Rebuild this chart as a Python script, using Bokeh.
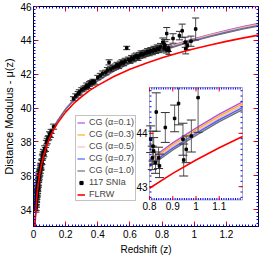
import numpy as np
from bokeh.plotting import figure
from bokeh.core.properties import value
from bokeh.models import (ColumnDataSource, FixedTicker, LinearAxis, Legend,
                          LegendItem, Range1d, BoxAnnotation)
from bokeh.embed import file_html
from bokeh.resources import INLINE

# ---------------- data ----------------
z_curve = [0.008, 0.01, 0.0125, 0.015, 0.02, 0.025, 0.03, 0.04, 0.05, 0.06,
           0.075, 0.1, 0.125, 0.15, 0.2, 0.25, 0.3, 0.35, 0.4, 0.5, 0.6, 0.7,
           0.8, 0.9, 1.0, 1.1, 1.2, 1.3, 1.4]
mu_cg01 = [32.69, 33.18, 33.66, 34.07, 34.70, 35.19, 35.59, 36.24, 36.74, 37.15,
           37.65, 38.32, 38.85, 39.27, 39.96, 40.50, 40.96, 41.34, 41.68, 42.26,
           42.74, 43.15, 43.50, 43.82, 44.10, 44.36, 44.59, 44.81, 45.00]
mu_cg03 = [32.690, 33.180, 33.660, 34.070, 34.699, 35.189, 35.588, 36.238, 36.737, 37.147,
           37.646, 38.315, 38.844, 39.262, 39.950, 40.487, 40.945, 41.323, 41.661, 42.238,
           42.714, 43.121, 43.469, 43.787, 44.066, 44.325, 44.554, 44.773, 44.961]
mu_cg05 = [32.690, 33.180, 33.660, 34.070, 34.698, 35.188, 35.586, 36.236, 36.734, 37.144,
           37.642, 38.310, 38.838, 39.254, 39.940, 40.474, 40.930, 41.306, 41.642, 42.216,
           42.688, 43.092, 43.438, 43.754, 44.032, 44.290, 44.518, 44.736, 44.922]
mu_cg07 = [32.690, 33.180, 33.660, 34.070, 34.697, 35.187, 35.584, 36.234, 36.731, 37.141,
           37.638, 38.305, 38.832, 39.246, 39.930, 40.461, 40.915, 41.289, 41.623, 42.194,
           42.662, 43.063, 43.407, 43.721, 43.998, 44.255, 44.482, 44.699, 44.883]
mu_cg10 = [32.690, 33.180, 33.660, 34.070, 34.696, 35.186, 35.582, 36.232, 36.728, 37.138,
           37.634, 38.300, 38.826, 39.238, 39.920, 40.448, 40.900, 41.272, 41.604, 42.172,
           42.636, 43.034, 43.376, 43.688, 43.964, 44.220, 44.446, 44.662, 44.844]
mu_flrw = [32.68, 33.16, 33.65, 34.05, 34.67, 35.16, 35.56, 36.19, 36.68, 37.08,
           37.57, 38.21, 38.71, 39.11, 39.76, 40.27, 40.68, 41.04, 41.34, 41.86,
           42.29, 42.65, 42.97, 43.25, 43.50, 43.73, 43.94, 44.13, 44.31]

sn_z = [0.0150, 0.0160, 0.0165, 0.0170, 0.0175, 0.0180, 0.0190, 0.0200, 0.0210, 0.0215,
        0.0220, 0.0225, 0.0235, 0.0240, 0.0250, 0.0260, 0.0265, 0.0270, 0.0280, 0.0290,
        0.0300, 0.0310, 0.0320, 0.0330, 0.0340, 0.0350, 0.0360, 0.0380, 0.0400, 0.0420,
        0.0430, 0.0450, 0.0460, 0.0480, 0.0500, 0.0530, 0.0550, 0.0580, 0.0600, 0.0620,
        0.0650, 0.0700, 0.0750, 0.0800, 0.0850, 0.0900, 0.0950, 0.1000, 0.1050, 0.1100,
        0.1250,
        0.249, 0.263, 0.278, 0.285, 0.300, 0.313, 0.325, 0.331, 0.340, 0.348,
        0.357, 0.365, 0.370, 0.380, 0.400, 0.416, 0.430, 0.450, 0.460, 0.470,
        0.480, 0.495, 0.510, 0.520, 0.530, 0.540, 0.550, 0.560, 0.570, 0.580,
        0.590, 0.600, 0.610, 0.620, 0.630, 0.640, 0.650, 0.660, 0.670, 0.680,
        0.690, 0.700, 0.710, 0.720, 0.730, 0.740, 0.750, 0.760, 0.770, 0.780,
        0.790,
        0.805, 0.812, 0.815, 0.818, 0.826, 0.829, 0.839, 0.843, 0.868, 0.908,
        0.925, 0.944, 0.947, 0.958, 0.980, 1.009]
sn_mu = [34.00, 34.35, 34.12, 34.45, 34.55, 34.30, 34.70, 34.58, 34.95, 34.78,
         35.05, 34.85, 34.95, 35.25, 35.10, 35.40, 35.30, 35.22, 35.58, 35.45,
         35.72, 35.55, 35.88, 35.75, 36.00, 36.10, 35.90, 36.28, 36.15, 36.50,
         36.30, 36.62, 36.45, 36.55, 36.85, 36.78, 37.08, 37.15, 37.30, 37.40,
         37.25, 37.62, 37.55, 37.95, 38.05, 38.20, 38.25, 38.45, 38.40, 38.62,
         38.90,
         40.55, 40.72, 40.85, 40.95, 41.08, 41.15, 41.22, 41.35, 41.28, 41.42,
         41.50, 41.48, 41.58, 41.55, 41.80, 41.92, 42.05, 42.10, 42.25, 42.70,
         42.30, 42.38, 42.45, 42.55, 42.48, 42.62, 42.70, 42.66, 42.78, 43.55,
         42.85, 42.80, 42.95, 42.90, 43.02, 43.08, 42.98, 43.12, 43.20, 43.15,
         43.22, 43.25, 43.32, 43.28, 43.38, 43.35, 43.45, 43.42, 43.52, 43.48,
         43.60,
         43.89, 43.54, 43.76, 43.67, 43.45, 44.40, 43.54, 43.39, 44.11, 44.28,
         44.56, 43.89, 43.50, 43.70, 43.95, 44.67]
sn_err = [0.15, 0.12, 0.18, 0.14, 0.12, 0.16, 0.13, 0.15, 0.12, 0.17,
          0.14, 0.12, 0.16, 0.13, 0.15, 0.12, 0.14, 0.16, 0.13, 0.15,
          0.12, 0.14, 0.16, 0.13, 0.12, 0.15, 0.14, 0.12, 0.16, 0.13,
          0.15, 0.12, 0.14, 0.16, 0.13, 0.12, 0.15, 0.14, 0.12, 0.16,
          0.13, 0.15, 0.12, 0.14, 0.16, 0.13, 0.12, 0.15, 0.14, 0.12,
          0.15,
          0.12, 0.12, 0.12, 0.13, 0.12, 0.14, 0.12, 0.13, 0.12, 0.14,
          0.12, 0.13, 0.12, 0.14, 0.13, 0.13, 0.14, 0.14, 0.14, 0.15,
          0.14, 0.14, 0.15, 0.15, 0.15, 0.15, 0.15, 0.16, 0.16, 0.10,
          0.16, 0.16, 0.16, 0.17, 0.17, 0.17, 0.17, 0.17, 0.18, 0.18,
          0.18, 0.18, 0.19, 0.19, 0.19, 0.20, 0.20, 0.20, 0.21, 0.21,
          0.22,
          0.25, 0.22, 0.28, 0.25, 0.20, 0.36, 0.20, 0.22, 0.28, 0.25,
          0.40, 0.30, 0.30, 0.25, 0.30, 0.65]

main_xticks = [0, 0.2, 0.4, 0.6, 0.8, 1.0, 1.2]
main_xlabels = ["0", "0.2", "0.4", "0.6", "0.8", "1", "1.2"]
main_yticks = [34, 36, 38, 40, 42, 44, 46]
main_ylabels = ["34", "36", "38", "40", "42", "44", "46"]
inset_xticks = [0.8, 0.9, 1.0, 1.1]
inset_xlabels = ["0.8", "0.9", "1", "1.1"]
inset_yticks = [43, 44]
inset_ylabels = ["43", "44"]

series_names = ["CG (\u03b1=0.1)", "CG (\u03b1=0.3)", "CG (\u03b1=0.5)",
                "CG (\u03b1=0.7)", "CG (\u03b1=1.0)"]
series_colors = ["#b050f0", "#ffb020", "#f0c0c0", "#5060ff", "#707070"]

FONT = "Liberation Sans"

# ---------------- layout constants (pixels) ----------------
FRAME_W, FRAME_H = 225, 220
INSET_L, INSET_R = 116, 209        # from frame left
INSET_T, INSET_B = 81, 193.5       # from frame top
IX0, IX1 = 0.8, 1.2
IY0, IY1 = 42.75, 44.86

# ---------------- main figure ----------------
p = figure(frame_width=FRAME_W, frame_height=FRAME_H,
           x_range=Range1d(0, 1.4), y_range=Range1d(33, 46),
           output_backend="svg", toolbar_location=None,
           min_border_left=24, min_border_right=6, min_border_top=6,
           min_border_bottom=30)
p.grid.visible = False
p.outline_line_color = "black"
p.background_fill_color = "white"

ux = (IX1 - IX0) / (INSET_R - INSET_L)
uy = (IY1 - IY0) / (INSET_B - INSET_T)
ix_start = IX0 - INSET_L * ux
iy_start = IY0 - (FRAME_H - INSET_B) * uy
p.extra_x_ranges = {"ix": Range1d(ix_start, ix_start + FRAME_W * ux)}
p.extra_y_ranges = {"iy": Range1d(iy_start, iy_start + FRAME_H * uy)}


def style_axis(ax, ticks, labels, minor, show_labels=True, tick_in=5):
    ax.ticker = FixedTicker(ticks=ticks, minor_ticks=minor)
    ax.axis_line_color = "black"
    ax.major_tick_line_color = "red"
    ax.minor_tick_line_color = "blue"
    ax.major_tick_in = tick_in
    ax.major_tick_out = 0
    ax.minor_tick_in = 2
    ax.minor_tick_out = 0
    ax.major_label_text_font = FONT
    ax.axis_label_text_font = FONT
    ax.axis_label_text_font_style = "normal"
    ax.axis_label_text_color = "black"
    ax.major_label_text_color = "black"
    if show_labels:
        ax.major_label_overrides = {t: l for t, l in zip(ticks, labels)}
    else:
        ax.major_label_overrides = {t: "" for t in ticks}
        ax.major_label_standoff = 0


xminor = list(np.round(np.arange(0, 1.4001, 0.02), 3))
yminor = list(np.round(np.arange(33, 46.001, 0.2), 2))

style_axis(p.xaxis[0], main_xticks, main_xlabels, xminor)
style_axis(p.yaxis[0], main_yticks, main_ylabels, yminor)
p.xaxis[0].axis_label = "Redshift (z)"
p.yaxis[0].axis_label = "Distance Modulus - \u03bc(z)"
p.xaxis[0].major_label_text_font_size = "10px"
p.yaxis[0].major_label_text_font_size = "10px"
p.xaxis[0].axis_label_text_font_size = "10px"
p.yaxis[0].axis_label_text_font_size = "11px"
p.xaxis[0].major_label_standoff = 3
p.yaxis[0].major_label_standoff = 2
p.xaxis[0].axis_label_standoff = 3
p.yaxis[0].axis_label_standoff = 2

top = LinearAxis()
style_axis(top, main_xticks, main_xlabels, xminor, show_labels=False)
p.add_layout(top, "above")
right = LinearAxis()
style_axis(right, main_yticks, main_ylabels, yminor, show_labels=False)
p.add_layout(right, "right")

z_arr = np.array(sn_z)
mu_arr = np.array(sn_mu)
err_arr = np.array(sn_err)
src = ColumnDataSource(dict(z=sn_z, mu=sn_mu,
                            lo=list(mu_arr - err_arr), hi=list(mu_arr + err_arr)))

# main curves and data
rs = []
for mu, c in zip([mu_cg01, mu_cg03, mu_cg05, mu_cg07, mu_cg10], series_colors):
    rs.append(p.line(z_curve, mu, line_color=c, line_width=1.2))
p.segment(x0="z", y0="lo", x1="z", y1="hi", source=src, line_color="#505050", line_width=1)
p.scatter("z", "lo", source=src, marker="dash", size=7, line_color="#303030")
p.scatter("z", "hi", source=src, marker="dash", size=7, line_color="#303030")
pts = p.scatter("z", "mu", source=src, marker="square", size=2.5,
                fill_color="black", line_color="black")
red = p.line(z_curve, mu_flrw, line_color="red", line_width=1.6)

items = [LegendItem(label=n, renderers=[r]) for n, r in zip(series_names, rs)]
items.append(LegendItem(label="117 SNIa", renderers=[pts]))
items.append(LegendItem(label="FLRW", renderers=[red]))
leg = Legend(items=items, location=(42, 25))
leg.label_text_font = FONT
leg.label_text_font_size = "9px"
leg.label_height = 9
leg.glyph_height = 9
leg.glyph_width = 8
leg.spacing = 2
leg.padding = 1
leg.margin = 0
leg.label_standoff = 4
leg.border_line_color = "#888888"
leg.border_line_width = 1
leg.background_fill_alpha = 1
p.add_layout(leg)

# ---------------- inset (drawn through the extra ranges) ----------------
R = dict(x_range_name="ix", y_range_name="iy")
p.add_layout(BoxAnnotation(left=IX0, right=IX1, bottom=IY0, top=IY1,
                           fill_color="white", fill_alpha=1,
                           line_color="black", line_width=1,
                           level="underlay", **R))

zc = np.array(z_curve)
cin = (zc >= IX0 - 1e-9) & (zc <= IX1 + 1e-9)
for mu, c in zip([mu_cg01, mu_cg03, mu_cg05, mu_cg07, mu_cg10], series_colors):
    p.line(list(zc[cin]), list(np.array(mu)[cin]), line_color=c, line_width=1.5, **R)

sel = (z_arr >= IX0) & (z_arr <= IX1)
lo_i = mu_arr[sel] - err_arr[sel]
hi_i = mu_arr[sel] + err_arr[sel]
isrc = ColumnDataSource(dict(z=list(z_arr[sel]), mu=list(mu_arr[sel]),
                             lo=list(np.clip(lo_i, IY0, IY1)),
                             hi=list(np.clip(hi_i, IY0, IY1))))
p.segment(x0="z", y0="lo", x1="z", y1="hi", source=isrc, line_color="#606060",
          line_width=1, **R)
cap_lo = lo_i >= IY0
cap_hi = hi_i <= IY1
p.scatter(list(z_arr[sel][cap_lo]), list(lo_i[cap_lo]), marker="dash", size=9,
          line_color="#303030", **R)
p.scatter(list(z_arr[sel][cap_hi]), list(hi_i[cap_hi]), marker="dash", size=9,
          line_color="#303030", **R)
p.scatter("z", "mu", source=isrc, marker="square", size=2.5,
          fill_color="black", line_color="black", **R)
p.line(list(zc[cin]), list(np.array(mu_flrw)[cin]), line_color="red", line_width=1.6, **R)

# inset ticks (inward), drawn as screen-length rays from the inset edges
ix_minor = [float(t) for t in np.round(np.arange(0.81, 1.2, 0.01), 3)]
iy_minor = [float(t) for t in np.round(np.arange(42.8, 44.86, 0.1), 2)]
for xs, L, col in [(ix_minor, 2, "blue"), (inset_xticks, 4, "red")]:
    p.ray(x=xs, y=[IY0] * len(xs), length=L, angle=np.pi / 2, length_units="screen",
          line_color=col, line_width=1, **R)
    p.ray(x=xs, y=[IY1] * len(xs), length=L, angle=-np.pi / 2, length_units="screen",
          line_color=col, line_width=1, **R)
for ys, L, col in [(iy_minor, 2, "blue"), (inset_yticks, 4, "red")]:
    p.ray(x=[IX0] * len(ys), y=ys, length=L, angle=0, length_units="screen",
          line_color=col, line_width=1, **R)
    p.ray(x=[IX1] * len(ys), y=ys, length=L, angle=np.pi, length_units="screen",
          line_color=col, line_width=1, **R)

p.text(x=inset_xticks, y=[IY0] * len(inset_xticks), text=inset_xlabels,
       text_align="center", text_baseline="top", y_offset=2,
       text_font=value(FONT), text_font_size="10px", text_color="black", **R)
p.text(x=[IX0] * len(inset_yticks), y=inset_yticks, text=inset_ylabels,
       text_align="right", text_baseline="middle", x_offset=-2,
       text_font=value(FONT), text_font_size="10px", text_color="black", **R)

open("out.html", "w").write(file_html(p, INLINE))
